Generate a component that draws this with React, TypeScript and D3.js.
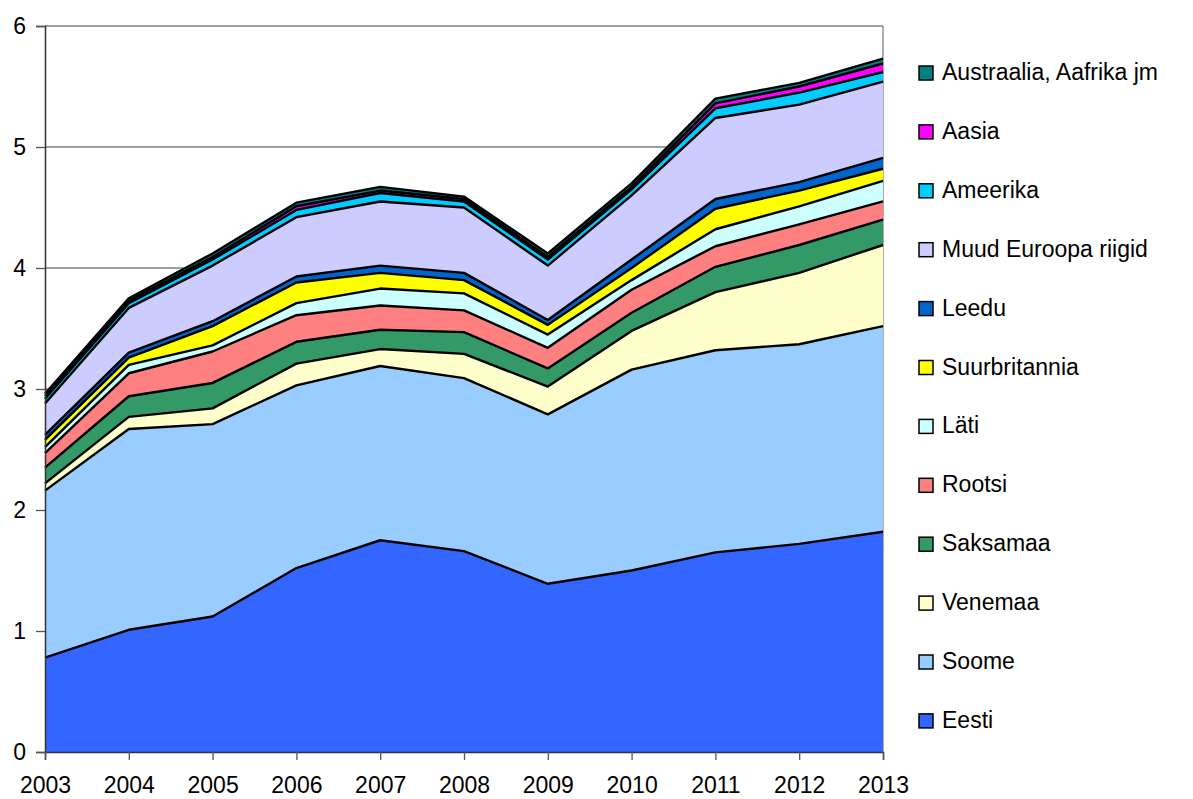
import React, { useEffect, useRef } from "react";
import * as d3 from "d3";

// years on the x axis
const years = [2003, 2004, 2005, 2006, 2007, 2008, 2009, 2010, 2011, 2012, 2013];

// series, bottom of stack first
const seriesNames = [
  "Eesti",
  "Soome",
  "Venemaa",
  "Saksamaa",
  "Rootsi",
  "Läti",
  "Suurbritannia",
  "Leedu",
  "Muud Euroopa riigid",
  "Ameerika",
  "Aasia",
  "Austraalia, Aafrika jm",
];

const eesti = [0.78, 1.01, 1.12, 1.52, 1.75, 1.66, 1.39, 1.5, 1.65, 1.72, 1.82];
const soome = [1.38, 1.66, 1.59, 1.51, 1.44, 1.43, 1.4, 1.66, 1.67, 1.65, 1.7];
const venemaa = [0.06, 0.1, 0.13, 0.18, 0.14, 0.2, 0.23, 0.32, 0.48, 0.59, 0.67];
const saksamaa = [0.13, 0.17, 0.21, 0.18, 0.16, 0.18, 0.15, 0.15, 0.21, 0.23, 0.21];
const rootsi = [0.12, 0.19, 0.26, 0.22, 0.2, 0.18, 0.17, 0.19, 0.17, 0.17, 0.15];
const lati = [0.05, 0.07, 0.05, 0.1, 0.14, 0.14, 0.11, 0.08, 0.14, 0.15, 0.17];
const suurbritannia = [0.06, 0.06, 0.16, 0.17, 0.13, 0.11, 0.08, 0.1, 0.17, 0.13, 0.1];
const leedu = [0.04, 0.04, 0.04, 0.05, 0.06, 0.06, 0.04, 0.07, 0.08, 0.07, 0.09];
const muudEuroopa = [0.26, 0.37, 0.46, 0.49, 0.53, 0.54, 0.45, 0.53, 0.67, 0.64, 0.63];
const ameerika = [0.04, 0.04, 0.05, 0.06, 0.07, 0.05, 0.05, 0.05, 0.08, 0.1, 0.08];
const aasia = [0.02, 0.02, 0.02, 0.03, 0.02, 0.02, 0.02, 0.02, 0.04, 0.05, 0.07];
const austraalia = [0.02, 0.02, 0.03, 0.03, 0.03, 0.02, 0.03, 0.03, 0.04, 0.03, 0.04];

const seriesValues = [
  eesti, soome, venemaa, saksamaa, rootsi, lati,
  suurbritannia, leedu, muudEuroopa, ameerika, aasia, austraalia,
];

const yTicks = [0, 1, 2, 3, 4, 5, 6];

const colors = [
  "#3366FF", "#99CCFF", "#FFFFCC", "#339966", "#FF8080", "#CCFFFF",
  "#FFFF00", "#0066CC", "#CCCCFF", "#00CCFF", "#FF00FF", "#008080",
];

const FONT = "'Liberation Sans', Arial, sans-serif";

const App = () => {
  const svgRef = useRef<SVGSVGElement>(null);

  useEffect(() => {
    const svg = d3.select(svgRef.current);
    svg.selectAll("*").remove();

    const left = 45, right = 883, top = 26, bottom = 752;

    const x = d3.scaleLinear().domain([2003, 2013]).range([left, right]);
    const y = d3.scaleLinear().domain([0, 6]).range([bottom, top]);

    // table for the stack
    const table = years.map((yr, i) => {
      const row: any = { year: yr };
      seriesNames.forEach((s, k) => (row[s] = seriesValues[k][i]));
      return row;
    });
    const stacked = d3.stack().keys(seriesNames)(table);

    // grid lines
    svg
      .append("g")
      .selectAll("line")
      .data(yTicks.filter((t) => t > 0))
      .join("line")
      .attr("x1", left)
      .attr("x2", right)
      .attr("y1", (d) => y(d))
      .attr("y2", (d) => y(d))
      .attr("stroke", "#808080")
      .attr("stroke-width", 1.3);

    // right border of plot
    svg
      .append("line")
      .attr("x1", right)
      .attr("x2", right)
      .attr("y1", top)
      .attr("y2", bottom)
      .attr("stroke", "#808080")
      .attr("stroke-width", 1.3);

    const area = d3
      .area<any>()
      .x((d) => x(d.data.year))
      .y0((d) => y(d[0]))
      .y1((d) => y(d[1]));

    const topLine = d3
      .line<any>()
      .x((d) => x(d.data.year))
      .y((d) => y(d[1]));

    svg
      .append("g")
      .selectAll("path")
      .data(stacked)
      .join("path")
      .attr("d", (d) => area(d as any))
      .attr("fill", (d, i) => colors[i]);

    svg
      .append("g")
      .selectAll("path")
      .data(stacked)
      .join("path")
      .attr("d", (d) => topLine(d as any))
      .attr("fill", "none")
      .attr("stroke", "#000")
      .attr("stroke-width", 2.4)
      .attr("stroke-linejoin", "round");

    // Y axis
    const yAxis = svg
      .append("g")
      .attr("transform", `translate(${left},0)`)
      .call(d3.axisLeft(y).tickValues(yTicks).tickSize(9).tickPadding(10).tickFormat(d3.format("d")));
    yAxis.select(".domain").attr("stroke", "#333").attr("stroke-width", 1.5);
    yAxis.selectAll(".tick line").attr("stroke", "#555").attr("stroke-width", 1.3);
    yAxis
      .selectAll("text")
      .attr("font-family", FONT)
      .attr("font-size", 23)
      .attr("fill", "#000");

    // X axis
    const xAxis = svg
      .append("g")
      .attr("transform", `translate(0,${bottom})`)
      .call(d3.axisBottom(x).tickValues(years).tickSize(8).tickPadding(17).tickFormat(d3.format("d")));
    xAxis.select(".domain").attr("stroke", "#333").attr("stroke-width", 1.5);
    xAxis.selectAll(".tick line").attr("stroke", "#555").attr("stroke-width", 1.3);
    xAxis
      .selectAll("text")
      .attr("font-family", FONT)
      .attr("font-size", 23)
      .attr("fill", "#000");

    // legend, top of stack first
    const legendItems = seriesNames.map((s, i) => ({ name: s, color: colors[i] })).reverse();
    const legend = svg
      .append("g")
      .selectAll("g")
      .data(legendItems)
      .join("g")
      .attr("transform", (d, i) => `translate(919,${80 + i * 58.9})`);

    legend
      .append("rect")
      .attr("x", 0)
      .attr("y", -14)
      .attr("width", 14)
      .attr("height", 14)
      .attr("fill", (d) => d.color)
      .attr("stroke", "#000")
      .attr("stroke-width", 1.5);

    legend
      .append("text")
      .attr("x", 23)
      .attr("y", 0)
      .attr("font-family", FONT)
      .attr("font-size", 23)
      .attr("fill", "#000")
      .text((d) => d.name);
  }, []);

  return (
    <svg
      ref={svgRef}
      width={1193}
      height={799}
      style={{ position: "absolute", left: 0, top: 0, background: "#fff" }}
    ></svg>
  );
};

export default App;
